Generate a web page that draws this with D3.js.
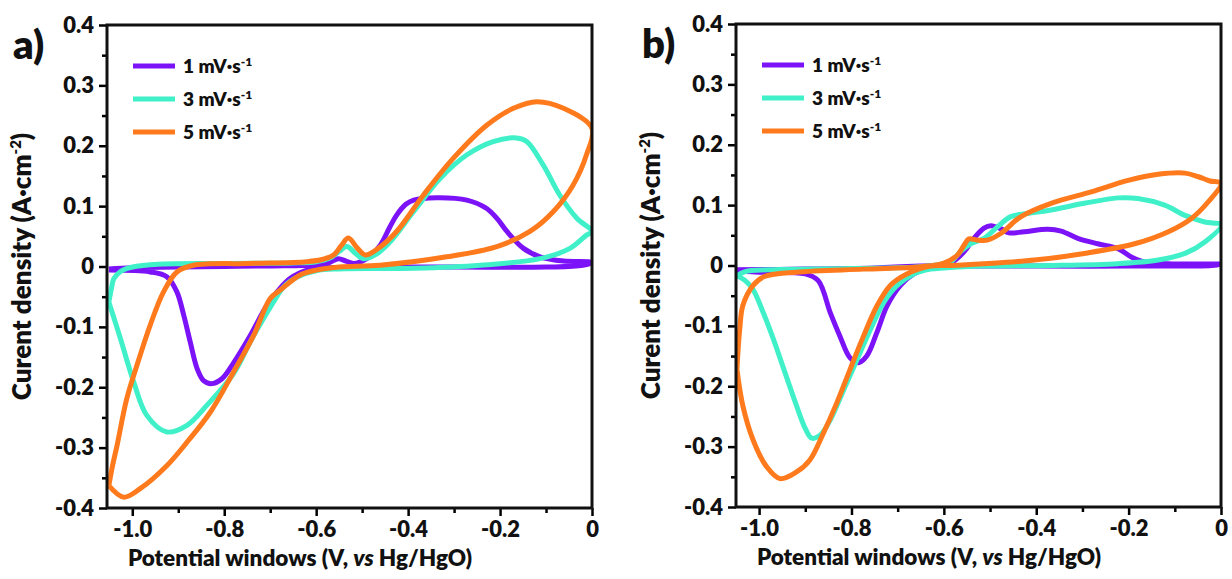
<!DOCTYPE html>
<html>
<head>
<meta charset="utf-8">
<script src="https://cdn.jsdelivr.net/npm/d3@7"></script>
<style>
body { margin: 0; background: #fff; }
text { font-family: Lato, "Open Sans", sans-serif; font-weight: 800; fill: #111; }
</style>
</head>
<body>
<script>
var w = 1232;
var h = 579;

// legend / series names
var seriesNames = ["1 mV·s", "3 mV·s", "5 mV·s"];
var colors = ["#7b12f7", "#3ff0c8", "#ff7a1c"];

var xTicks = [-1.0, -0.8, -0.6, -0.4, -0.2, 0];
var yTicks = [0.4, 0.3, 0.2, 0.1, 0, -0.1, -0.2, -0.3, -0.4];

// panel a : [potential V, current density A/cm2], anodic then cathodic sweep
var a1 = [[-1.051,-0.004],[-1.0,-0.002],[-0.9,-0.001],[-0.8,0.0],[-0.7,0.001],[-0.6,0.003],[-0.57,0.007],[-0.552,0.013],[-0.535,0.009],[-0.519,0.005],[-0.49,0.013],[-0.461,0.035],[-0.44,0.065],[-0.425,0.085],[-0.405,0.103],[-0.388,0.11],[-0.338,0.114],[-0.272,0.11],[-0.229,0.096],[-0.205,0.078],[-0.185,0.058],[-0.149,0.03],[-0.113,0.016],[-0.062,0.009],[0,0.007],
  [-0.02,0.002],[-0.1,-0.001],[-0.3,-0.001],[-0.5,-0.001],[-0.58,-0.002],[-0.62,-0.006],[-0.657,-0.02],[-0.685,-0.042],[-0.707,-0.064],[-0.743,-0.114],[-0.78,-0.16],[-0.805,-0.186],[-0.827,-0.194],[-0.845,-0.189],[-0.859,-0.169],[-0.874,-0.125],[-0.888,-0.081],[-0.903,-0.042],[-0.925,-0.017],[-0.961,-0.009],[-1.051,-0.006]];
var a3 = [[-1.051,-0.059],[-1.045,-0.035],[-1.04,-0.02],[-1.025,-0.008],[-1.011,-0.003],[-0.961,0.003],[-0.8,0.005],[-0.65,0.006],[-0.6,0.008],[-0.57,0.014],[-0.55,0.025],[-0.533,0.033],[-0.515,0.022],[-0.497,0.013],[-0.47,0.02],[-0.439,0.041],[-0.388,0.091],[-0.33,0.146],[-0.272,0.185],[-0.215,0.207],[-0.164,0.213],[-0.142,0.207],[-0.106,0.168],[-0.07,0.118],[-0.033,0.08],[0,0.058],
  [-0.012,0.052],[-0.048,0.03],[-0.113,0.013],[-0.243,0.002],[-0.388,-0.003],[-0.55,-0.004],[-0.6,-0.007],[-0.64,-0.017],[-0.67,-0.033],[-0.693,-0.059],[-0.74,-0.12],[-0.78,-0.178],[-0.838,-0.23],[-0.881,-0.263],[-0.925,-0.274],[-0.968,-0.247],[-0.997,-0.191],[-1.026,-0.119],[-1.051,-0.059]];
var a5 = [[-1.051,-0.363],[-1.043,-0.33],[-1.033,-0.296],[-1.012,-0.219],[-0.99,-0.164],[-0.961,-0.097],[-0.932,-0.042],[-0.903,-0.009],[-0.867,0.002],[-0.75,0.005],[-0.62,0.008],[-0.585,0.012],[-0.562,0.019],[-0.545,0.035],[-0.53,0.047],[-0.51,0.03],[-0.493,0.019],[-0.465,0.03],[-0.425,0.058],[-0.367,0.118],[-0.302,0.179],[-0.229,0.234],[-0.171,0.262],[-0.12,0.273],[-0.062,0.262],[0,0.229],
  [-0.012,0.185],[-0.041,0.135],[-0.084,0.091],[-0.135,0.058],[-0.207,0.033],[-0.316,0.016],[-0.461,0.002],[-0.55,-0.001],[-0.6,-0.006],[-0.635,-0.014],[-0.678,-0.039],[-0.7,-0.053],[-0.736,-0.114],[-0.78,-0.175],[-0.83,-0.241],[-0.881,-0.291],[-0.925,-0.33],[-0.983,-0.368],[-1.019,-0.382],[-1.051,-0.363]];

// panel b
var b1 = [[-1.048,-0.007],[-0.9,-0.006],[-0.75,-0.004],[-0.65,-0.001],[-0.6,0.001],[-0.585,0.004],[-0.556,0.023],[-0.535,0.045],[-0.513,0.062],[-0.498,0.066],[-0.477,0.061],[-0.459,0.054],[-0.426,0.056],[-0.375,0.06],[-0.346,0.057],[-0.31,0.045],[-0.267,0.036],[-0.223,0.028],[-0.194,0.014],[-0.172,0.007],[-0.114,0.003],[0,0.002],
  [-0.02,0.0],[-0.2,-0.001],[-0.4,-0.001],[-0.55,-0.001],[-0.629,-0.003],[-0.665,-0.014],[-0.694,-0.033],[-0.723,-0.067],[-0.745,-0.111],[-0.767,-0.15],[-0.785,-0.161],[-0.803,-0.153],[-0.825,-0.117],[-0.846,-0.078],[-0.872,-0.025],[-0.9,-0.014],[-1.0,-0.011],[-1.048,-0.009]];
var b3 = [[-1.048,-0.017],[-1.03,-0.01],[-0.98,-0.007],[-0.8,-0.005],[-0.65,-0.002],[-0.6,0.003],[-0.585,0.006],[-0.564,0.023],[-0.542,0.036],[-0.513,0.045],[-0.484,0.064],[-0.455,0.081],[-0.419,0.086],[-0.368,0.092],[-0.296,0.103],[-0.223,0.112],[-0.18,0.111],[-0.122,0.1],[-0.078,0.083],[-0.035,0.072],[0,0.067],
  [-0.035,0.039],[-0.078,0.02],[-0.136,0.009],[-0.223,0.003],[-0.368,0.0],[-0.513,-0.001],[-0.6,-0.004],[-0.629,-0.006],[-0.665,-0.014],[-0.701,-0.033],[-0.73,-0.061],[-0.759,-0.106],[-0.788,-0.156],[-0.817,-0.206],[-0.846,-0.256],[-0.868,-0.281],[-0.886,-0.286],[-0.9,-0.27],[-0.92,-0.23],[-0.945,-0.175],[-0.97,-0.12],[-0.99,-0.08],[-1.013,-0.04],[-1.03,-0.025],[-1.048,-0.017]];
var b5 = [[-1.048,-0.172],[-1.042,-0.106],[-1.035,-0.066],[-1.013,-0.033],[-0.991,-0.019],[-0.919,-0.011],[-0.774,-0.006],[-0.65,-0.002],[-0.6,0.004],[-0.571,0.017],[-0.556,0.034],[-0.546,0.044],[-0.527,0.042],[-0.506,0.042],[-0.477,0.053],[-0.433,0.081],[-0.368,0.103],[-0.281,0.122],[-0.201,0.141],[-0.136,0.151],[-0.078,0.153],[-0.049,0.147],[-0.024,0.14],[0,0.136],
  [-0.027,0.106],[-0.064,0.078],[-0.114,0.056],[-0.187,0.036],[-0.296,0.02],[-0.404,0.009],[-0.513,0.003],[-0.585,0.0],[-0.629,-0.001],[-0.68,-0.014],[-0.716,-0.033],[-0.745,-0.067],[-0.774,-0.117],[-0.803,-0.172],[-0.832,-0.228],[-0.861,-0.278],[-0.89,-0.322],[-0.919,-0.342],[-0.955,-0.353],[-0.984,-0.333],[-1.013,-0.289],[-1.035,-0.233],[-1.048,-0.172]];

var svg = d3.select("body")
  .append("svg")
  .attr("width", w)
  .attr("height", h);

function fmt(d){
  if(d === 0) return "0";
  return (d < 0 ? "-" : "") + Math.abs(d).toFixed(1);
}

function panel(p){
  var x = d3.scaleLinear().domain([p.xmin, 0]).range([p.left, p.right]);
  var y = d3.scaleLinear().domain([-0.4, 0.4]).range([p.bottom, p.top]);

  var g = svg.append("g");

  // minor ticks
  g.append("g")
    .attr("transform", "translate(0," + p.bottom + ")")
    .call(d3.axisBottom(x).tickValues([-0.9, -0.7, -0.5, -0.3, -0.1]).tickSize(5).tickFormat(""))
    .call(function(s){ s.select(".domain").remove(); s.selectAll("line").attr("stroke-width", 2.5); });
  g.append("g")
    .attr("transform", "translate(" + p.left + ",0)")
    .call(d3.axisLeft(y).tickValues([0.35, 0.25, 0.15, 0.05, -0.05, -0.15, -0.25, -0.35]).tickSize(5).tickFormat(""))
    .call(function(s){ s.select(".domain").remove(); s.selectAll("line").attr("stroke-width", 2.5); });

  // major ticks
  var xa = g.append("g")
    .attr("transform", "translate(0," + p.bottom + ")")
    .call(d3.axisBottom(x).tickValues(xTicks).tickSize(8).tickPadding(5).tickFormat(fmt));
  xa.select(".domain").remove();
  xa.selectAll("line").attr("stroke-width", 2.5);
  xa.selectAll("text").style("font-size", "22px").attr("fill", "#111");

  var ya = g.append("g")
    .attr("transform", "translate(" + p.left + ",0)")
    .call(d3.axisLeft(y).tickValues(yTicks).tickSize(8).tickPadding(5).tickFormat(fmt));
  ya.select(".domain").remove();
  ya.selectAll("line").attr("stroke-width", 2.5);
  ya.selectAll("text").style("font-size", "22px").attr("fill", "#111");

  // curves
  var line = d3.line()
    .x(function(d){ return x(d[0]); })
    .y(function(d){ return y(d[1]); })
    .curve(d3.curveCatmullRom.alpha(0.5));

  g.append("clipPath").attr("id", "clip" + p.name)
    .append("rect")
    .attr("x", p.left).attr("y", p.top)
    .attr("width", p.right - p.left).attr("height", p.bottom - p.top);

  g.append("g").attr("clip-path", "url(#clip" + p.name + ")")
    .selectAll("path")
    .data(p.series)
    .enter()
    .append("path")
    .attr("d", line)
    .attr("fill", "none")
    .attr("stroke", function(d, i){ return colors[i]; })
    .attr("stroke-width", 5)
    .attr("stroke-linejoin", "round");

  // frame
  g.append("rect")
    .attr("x", p.left).attr("y", p.top)
    .attr("width", p.right - p.left).attr("height", p.bottom - p.top)
    .attr("fill", "none").attr("stroke", "#111").attr("stroke-width", 3);

  // legend
  var lg = g.selectAll(".leg")
    .data(seriesNames)
    .enter()
    .append("g")
    .attr("transform", function(d, i){ return "translate(" + (p.left + 26) + "," + (p.top + 41 + i * 33) + ")"; });
  lg.append("line")
    .attr("x1", 0).attr("x2", 42)
    .attr("stroke", function(d, i){ return colors[i]; })
    .attr("stroke-width", 5);
  var lt = lg.append("text")
    .attr("x", 50).attr("y", 7)
    .style("font-size", "19px");
  lt.append("tspan").text(function(d){ return d; });
  lt.append("tspan").attr("dy", -7).style("font-size", "12px").text("-1");

  // axis labels
  g.append("text")
    .attr("x", p.left + 193).attr("y", p.bottom + 58)
    .attr("text-anchor", "middle")
    .style("font-size", "22.5px")
    .html("Potential windows (V, <tspan font-style='italic'>vs</tspan> Hg/HgO)");

  var yl = g.append("text")
    .attr("transform", "translate(" + (p.left - 76) + "," + ((p.top + p.bottom) / 2) + ") rotate(-90)")
    .attr("text-anchor", "middle")
    .style("font-size", "26px");
  yl.append("tspan").text("Curent density (A·cm");
  yl.append("tspan").attr("dy", -10).style("font-size", "15px").text("-2");
  yl.append("tspan").attr("dy", 10).text(")");

  g.append("text")
    .attr("x", p.left - 94).attr("y", p.top + 34)
    .style("font-size", "40px")
    .text(p.name + ")");
}

panel({name: "a", left: 107, right: 592, top: 25, bottom: 508, xmin: -1.055, series: [a1, a3, a5]});
panel({name: "b", left: 736, right: 1221, top: 24, bottom: 507, xmin: -1.05, series: [b1, b3, b5]});
</script>
</body>
</html>
